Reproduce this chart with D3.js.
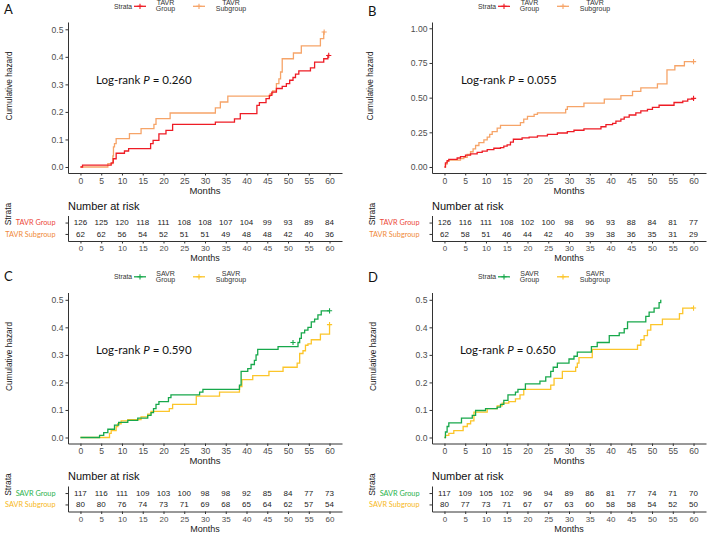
<!DOCTYPE html>
<html>
<head>
<meta charset="utf-8">
<script src="https://cdn.jsdelivr.net/npm/d3@7"></script>
<style>
  body { margin: 0; background: #fff; }
  .axis .domain, .axis line { stroke: #333; stroke-width: 1; }
  .axis text { fill: #4d4d4d; font-family: "Liberation Sans", Arial, sans-serif; font-size: 8px; }
  .plotaxis text { font-size: 8.6px; }
</style>
</head>
<body>
<script>

// ---- step points: [month, cumulative hazard] ----
var tavrGroupA = [[0,0],[0.5,0.007],[7.4,0.015],[7.9,0.03],[8.6,0.05],[10.6,0.058],[11.6,0.067],[16.9,0.085],[17.5,0.097],[18.9,0.12],[20.6,0.133],[22.2,0.155],[32.5,0.163],[37.1,0.175],[38.5,0.194],[42.5,0.224],[43.1,0.234],[44.7,0.248],[45.5,0.26],[46.1,0.272],[47.2,0.285],[48.6,0.293],[49.6,0.303],[50.4,0.315],[51.2,0.325],[51.8,0.337],[52.6,0.349],[55.4,0.36],[56.4,0.381],[58.6,0.393],[59.6,0.405],[60,0.405]];
var tavrSubA = [[0,0],[6.6,0.012],[7.8,0.04],[7.95,0.073],[8.2,0.085],[8.6,0.103],[11.8,0.121],[14.6,0.139],[17.7,0.155],[18.2,0.176],[21.6,0.196],[32.5,0.215],[33.7,0.236],[35.5,0.257],[45.7,0.266],[46.3,0.276],[47.2,0.303],[47.8,0.32],[48.2,0.345],[48.6,0.393],[51.3,0.414],[53.2,0.44],[57.8,0.466],[58.6,0.49],[58.8,0.49]];

var tavrGroupB = [[0,0],[0.24,0.03],[0.64,0.045],[1.05,0.055],[3.06,0.065],[3.86,0.075],[5.07,0.085],[6.28,0.095],[7.88,0.105],[9.09,0.115],[10.3,0.125],[11.9,0.135],[13.5,0.14],[14.3,0.15],[15.1,0.16],[15.9,0.18],[16.6,0.2],[18.7,0.21],[20.4,0.215],[22.4,0.225],[24.8,0.235],[27.2,0.245],[29.6,0.255],[31.2,0.265],[33.6,0.275],[37.7,0.29],[38.9,0.305],[40.5,0.315],[41.3,0.33],[42.5,0.345],[43.3,0.36],[44.5,0.375],[46.1,0.39],[47.3,0.405],[48.9,0.415],[50.1,0.43],[51.7,0.445],[55.3,0.465],[57.4,0.475],[58.6,0.49],[60,0.495]];
var tavrSubB = [[0,0],[0.24,0.02],[0.64,0.04],[1.05,0.05],[3.86,0.06],[4.67,0.07],[5.47,0.09],[6.28,0.11],[6.9,0.13],[7.5,0.155],[8.3,0.175],[9.5,0.195],[10.3,0.215],[10.9,0.235],[11.5,0.255],[12.7,0.28],[13.5,0.3],[18.3,0.32],[19.1,0.345],[20,0.365],[21.6,0.38],[22.4,0.39],[29.2,0.415],[29.6,0.435],[33.6,0.46],[38.5,0.49],[42.5,0.515],[45.3,0.545],[47.3,0.57],[51.3,0.6],[53.6,0.7],[55.5,0.73],[57.8,0.76],[60,0.76]];

var savrGroupC = [[0,0],[4.6,0.008],[5.6,0.018],[6.6,0.03],[8.2,0.045],[9.2,0.055],[11.4,0.062],[13.8,0.07],[16.2,0.08],[17,0.09],[17.6,0.105],[18.2,0.12],[18.9,0.13],[21.2,0.145],[21.8,0.155],[28.7,0.165],[29.5,0.175],[38.3,0.19],[38.7,0.24],[40.3,0.25],[41.1,0.265],[41.9,0.28],[42.3,0.3],[42.7,0.32],[47.6,0.33],[52.4,0.345],[52.8,0.36],[53.2,0.38],[54,0.39],[54.8,0.4],[55.6,0.42],[56.4,0.43],[57.2,0.445],[58,0.46],[60,0.46]];
var savrSubC = [[0,0],[7,0.015],[7.4,0.025],[8.6,0.04],[9,0.05],[9.8,0.06],[11.4,0.065],[14.6,0.075],[16.2,0.085],[17,0.095],[21.4,0.105],[22.2,0.12],[27.9,0.15],[33.5,0.165],[38.3,0.185],[38.9,0.21],[41.5,0.225],[45.4,0.24],[48.8,0.255],[52.2,0.27],[52.8,0.305],[53.6,0.315],[54.2,0.335],[54.8,0.34],[55.6,0.355],[57.8,0.375],[60,0.41]];

var savrGroupD = [[0,0],[0.24,0.02],[0.64,0.04],[1.05,0.053],[4.1,0.07],[6.7,0.08],[7.5,0.098],[9.9,0.105],[12.7,0.11],[13.5,0.12],[14.3,0.135],[15.3,0.155],[17.1,0.165],[17.7,0.175],[19.5,0.195],[23,0.205],[24.4,0.22],[25.6,0.24],[26.2,0.255],[27.2,0.27],[30,0.285],[31.2,0.295],[32,0.31],[35.4,0.33],[36.8,0.345],[39.7,0.37],[42.1,0.38],[43.3,0.395],[44.1,0.42],[48.5,0.44],[49.3,0.455],[50.5,0.47],[51.7,0.49],[52.1,0.5]];
var savrSubD = [[0,0],[0.24,0.008],[1.05,0.015],[2.25,0.025],[4.5,0.04],[5.5,0.05],[6.3,0.06],[7.1,0.092],[10.3,0.105],[12.7,0.115],[13.9,0.125],[15.5,0.13],[17.1,0.14],[18.2,0.155],[19.1,0.175],[25.6,0.19],[26.4,0.215],[28.4,0.24],[31.6,0.255],[32,0.27],[32.4,0.29],[35.6,0.32],[46.5,0.335],[47.3,0.355],[48.1,0.37],[48.9,0.39],[49.7,0.41],[52.5,0.43],[56.6,0.45],[57.4,0.47],[60,0.47]];

// censor marks [month, hazard]
var censorA = [[[59.8,0.405]], [[58.7,0.49]]];
var censorB = [[[60,0.495]], [[60,0.76]]];
var censorC = [[[51.2,0.345],[60,0.46]], [[60,0.41]]];
var censorD = [[], [[60,0.47]]];

// number at risk
var riskMonths = d3.range(0, 61, 5);
var riskTavrGroupA = [126,125,120,118,111,108,108,107,104,99,93,89,84];
var riskTavrSubA   = [62,62,56,54,52,51,51,49,48,48,42,40,36];
var riskTavrGroupB = [126,116,111,108,102,100,98,96,93,88,84,81,77];
var riskTavrSubB   = [62,58,51,46,44,42,40,39,38,36,35,31,29];
var riskSavrGroupC = [117,116,111,109,103,100,98,98,92,85,84,77,73];
var riskSavrSubC   = [80,80,76,74,73,71,69,68,65,64,62,57,54];
var riskSavrGroupD = [117,109,105,102,96,94,89,86,81,77,74,71,70];
var riskSavrSubD   = [80,77,73,71,67,67,63,60,58,58,54,52,50];

var tavrNames = ['TAVR Group', 'TAVR Subgroup'];
var savrNames = ['SAVR Group', 'SAVR Subgroup'];
var yTicksHalf = [0, 0.1, 0.2, 0.3, 0.4, 0.5];
var yTicksOne = [0, 0.25, 0.5, 0.75, 1];

var RED = '#ee1c25', ORANGE = '#f6a468', GREEN = '#17a84b', YELLOW = '#fcc52a';

var panels = [
  { letter: 'A', dx: 0,   dy: 0,     names: tavrNames, colors: [RED, ORANGE], labelColors: ['#ec4a3c', '#f08a3a'],
    curves: [tavrGroupA, tavrSubA], censor: censorA, risk: [riskTavrGroupA, riskTavrSubA], p: '0.260',
    yTicks: yTicksHalf, fmt: '.1f', yDom: [-0.0218, 0.5265], letterY: 14 },
  { letter: 'B', dx: 364, dy: 0,     names: tavrNames, colors: [RED, ORANGE], labelColors: ['#ec4a3c', '#f08a3a'],
    curves: [tavrGroupB, tavrSubB], censor: censorB, risk: [riskTavrGroupB, riskTavrSubB], p: '0.055',
    yTicks: yTicksOne, fmt: '.2f', yDom: [-0.0433, 1.0454], letterY: 15.5 },
  { letter: 'C', dx: 0,   dy: 270.5, names: savrNames, colors: [GREEN, YELLOW], labelColors: ['#2bb24c', '#f7b81a'],
    curves: [savrGroupC, savrSubC], censor: censorC, risk: [riskSavrGroupC, riskSavrSubC], p: '0.590',
    yTicks: yTicksHalf, fmt: '.1f', yDom: [-0.0218, 0.5265], letterY: 10 },
  { letter: 'D', dx: 364, dy: 270.5, names: savrNames, colors: [GREEN, YELLOW], labelColors: ['#2bb24c', '#f7b81a'],
    curves: [savrGroupD, savrSubD], censor: censorD, risk: [riskSavrGroupD, riskSavrSubD], p: '0.650',
    yTicks: yTicksHalf, fmt: '.1f', yDom: [-0.0218, 0.5265], letterY: 11 }
];

var SANS = '"Liberation Sans", Arial, sans-serif';
var HUMAN = 'Lato, "Open Sans", sans-serif';

var svg = d3.select('body').append('svg')
  .attr('width', 708).attr('height', 534);

var plus = 'M-2.6,0H2.6M0,-2.6V2.6';

panels.forEach(function(p) {
  var g = svg.append('g').attr('transform', 'translate(' + p.dx + ',' + p.dy + ')');

  var x = d3.scaleLinear().domain([-3, 63]).range([68, 342]);
  var y = d3.scaleLinear().domain(p.yDom).range([173, 22]);

  // panel letter
  g.append('text').attr('x', 4).attr('y', p.letterY)
    .attr('font-family', HUMAN).attr('font-size', 13).attr('fill', '#111').text(p.letter);

  // ---- legend on top ----
  var lg = g.append('g').attr('font-family', SANS).attr('fill', '#333');
  lg.append('text').attr('x', 114).attr('y', 8.6).attr('font-size', 6.8).text('Strata');
  var keyX = [134, 193], txtX = [165.5, 231];
  p.names.forEach(function(name, i) {
    lg.append('line').attr('x1', keyX[i]).attr('x2', keyX[i] + 12).attr('y1', 6.3).attr('y2', 6.3)
      .attr('stroke', p.colors[i]).attr('stroke-width', 1.3);
    lg.append('path').attr('d', plus).attr('transform', 'translate(' + (keyX[i] + 6) + ',6.3)')
      .attr('stroke', p.colors[i]).attr('stroke-width', 1.1);
    var parts = name.split(' ');
    lg.append('text').attr('x', txtX[i]).attr('y', 5.2).attr('text-anchor', 'middle')
      .attr('font-size', 7).text(parts[0]);
    lg.append('text').attr('x', txtX[i]).attr('y', 11.2).attr('text-anchor', 'middle')
      .attr('font-size', 7).text(parts[1]);
  });

  // ---- axes ----
  g.append('g').attr('class', 'axis plotaxis').attr('transform', 'translate(0,173)')
    .call(d3.axisBottom(x).tickValues(riskMonths).tickSize(2.5).tickSizeOuter(0).tickPadding(2.2));
  g.append('g').attr('class', 'axis plotaxis').attr('transform', 'translate(68,0)')
    .call(d3.axisLeft(y).tickValues(p.yTicks).tickFormat(d3.format(p.fmt)).tickSize(2.5).tickSizeOuter(0).tickPadding(2));

  g.append('text').attr('x', 205).attr('y', 193.5).attr('text-anchor', 'middle')
    .attr('font-family', SANS).attr('font-size', 9.5).attr('fill', '#222').text('Months');
  var ytx = p.fmt === '.2f' ? 8.5 : 12;
  g.append('text').attr('transform', 'translate(' + ytx + ',86) rotate(-90)').attr('text-anchor', 'middle')
    .attr('font-family', SANS).attr('font-size', 8.3).attr('fill', '#222').text('Cumulative hazard');

  // ---- curves ----
  var line = d3.line().curve(d3.curveStepAfter)
    .x(function(d) { return x(d[0]); })
    .y(function(d) { return y(d[1]); });
  [1, 0].forEach(function(i) {
    g.append('path').datum(p.curves[i]).attr('d', line)
      .attr('fill', 'none').attr('stroke', p.colors[i]).attr('stroke-width', 1.3);
    g.selectAll(null).data(p.censor[i]).enter().append('path')
      .attr('d', plus)
      .attr('transform', function(d) { return 'translate(' + x(d[0]) + ',' + y(d[1]) + ')'; })
      .attr('stroke', p.colors[i]).attr('stroke-width', 1.1);
  });

  // log-rank
  var lr = g.append('text').attr('x', p.fmt === '.2f' ? 97 : 96).attr('y', 83.5)
    .attr('font-family', HUMAN).attr('font-size', 11.5).attr('fill', '#111');
  lr.append('tspan').text('Log-rank ');
  lr.append('tspan').attr('font-style', 'italic').text('P');
  lr.append('tspan').text(' = ' + p.p);

  // ---- risk table ----
  g.append('text').attr('x', 68).attr('y', 209.5)
    .attr('font-family', SANS).attr('font-size', 11).attr('fill', '#111').text('Number at risk');
  g.append('text').attr('transform', 'translate(11,214) rotate(-90)').attr('text-anchor', 'middle')
    .attr('font-family', SANS).attr('font-size', 8.5).attr('fill', '#222').text('Strata');

  var ry = d3.scalePoint().domain(p.names).range([215.5, 241]).padding(0.62);
  var tyAxis = g.append('g').attr('class', 'axis').attr('transform', 'translate(68,0)')
    .call(d3.axisLeft(ry).tickSize(2.5).tickSizeOuter(0).tickPadding(10));
  tyAxis.selectAll('text')
    .style('font-family', HUMAN).style('font-size', '7.3px')
    .style('fill', function(d, i) { return p.labelColors[i]; });
  g.append('g').attr('class', 'axis').attr('transform', 'translate(0,241)')
    .call(d3.axisBottom(x).tickValues(riskMonths).tickSize(2.5).tickSizeOuter(0).tickPadding(2));
  g.append('text').attr('x', 205).attr('y', 261).attr('text-anchor', 'middle')
    .attr('font-family', SANS).attr('font-size', 9).attr('fill', '#222').text('Months');

  p.names.forEach(function(name, i) {
    g.selectAll(null).data(p.risk[i]).enter().append('text')
      .attr('x', function(d, k) { return x(riskMonths[k]); })
      .attr('y', ry(name)).attr('dy', '0.35em')
      .attr('text-anchor', 'middle')
      .attr('font-family', SANS).attr('font-size', 8).attr('fill', '#222')
      .text(function(d) { return d; });
  });
});
</script>
</body>
</html>
